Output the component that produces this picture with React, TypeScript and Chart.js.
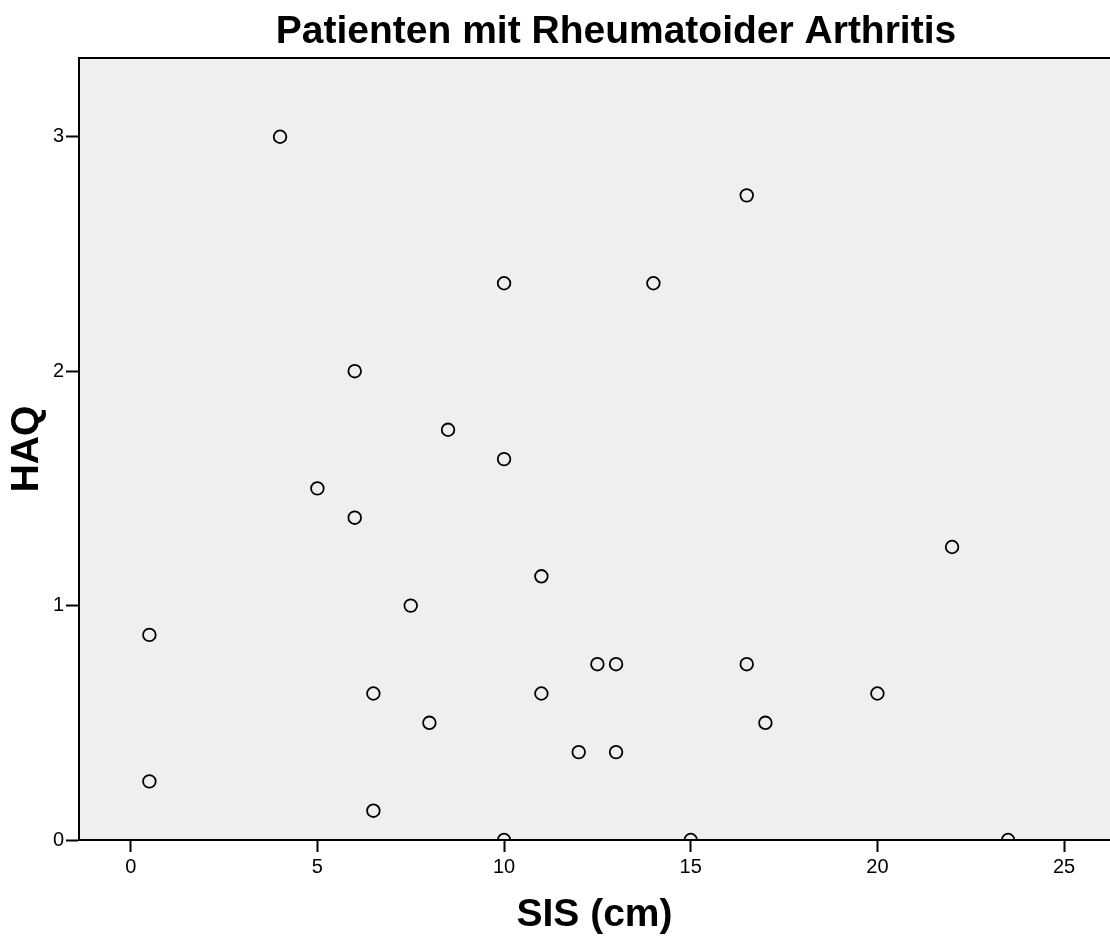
import React, { useEffect, useRef } from 'react';
import { Chart, registerables } from 'chart.js';

Chart.register(...registerables);

const chartTitle = 'Patienten mit Rheumatoider Arthritis';
const xAxisTitle = 'SIS (cm)';
const yAxisTitle = 'HAQ';

const sisValues = [
  4, 16.5, 10, 14, 6, 8.5, 10, 5, 6, 22, 11, 7.5, 0.5, 12.5, 13, 16.5, 6.5, 11, 20, 8, 17, 12, 13, 0.5, 6.5, 10, 15, 23.5,
];
const haqValues = [
  3, 2.75, 2.375, 2.375, 2, 1.75, 1.625, 1.5, 1.375, 1.25, 1.125, 1, 0.875, 0.75, 0.75, 0.75, 0.625, 0.625, 0.625, 0.5, 0.5,
  0.375, 0.375, 0.25, 0.125, 0, 0, 0,
];
const xTickValues = [0, 5, 10, 15, 20, 25];
const yTickValues = [0, 1, 2, 3];

const FONT = '"Liberation Sans", Arial, Helvetica, sans-serif';

export default function App() {
  const ref = useRef<HTMLCanvasElement>(null);

  useEffect(() => {
    if (!ref.current) return;

    const framePlugin = {
      id: 'spssFrame',
      beforeDraw(chart: any) {
        const { ctx, chartArea: a } = chart;
        ctx.save();
        ctx.fillStyle = '#efefef';
        ctx.fillRect(a.left, a.top, a.right - a.left, a.bottom - a.top);
        ctx.restore();
      },
      afterDraw(chart: any) {
        const { ctx, chartArea: a } = chart;
        ctx.save();
        ctx.strokeStyle = '#000';
        ctx.lineWidth = 2;
        ctx.beginPath();
        ctx.moveTo(a.left, a.top);
        ctx.lineTo(a.right, a.top);
        ctx.stroke();
        ctx.fillStyle = '#000';
        ctx.font = `bold 39px ${FONT}`;
        ctx.textAlign = 'center';
        ctx.textBaseline = 'alphabetic';
        ctx.fillText(chartTitle, 616, 43);
        ctx.restore();
      },
    };

    const points = sisValues.map((x, i) => ({ x, y: haqValues[i] }));

    const chart = new Chart(ref.current, {
      type: 'scatter',
      data: {
        datasets: [
          {
            data: points,
            pointStyle: 'circle',
            pointRadius: 6.3,
            pointHoverRadius: 6.3,
            pointBackgroundColor: 'rgba(0,0,0,0)',
            pointBorderColor: '#000',
            pointBorderWidth: 1.8,
            clip: 0,
          } as any,
        ],
      },
      options: {
        responsive: false,
        maintainAspectRatio: false,
        animation: false,
        layout: { autoPadding: false, padding: { top: 58, left: 0, right: 0, bottom: 0 } },
        plugins: {
          legend: { display: false },
          tooltip: { enabled: false },
          title: { display: false },
        },
        scales: {
          x: {
            type: 'linear',
            min: -1.385,
            max: 26.23,
            afterBuildTicks: (s: any) => {
              s.ticks = xTickValues.map((v) => ({ value: v }));
            },
            afterFit: (s: any) => {
              s.height = 100;
              s.paddingLeft = 0;
              s.paddingRight = 0;
            },
            grid: {
              display: true,
              drawOnChartArea: false,
              drawTicks: true,
              tickLength: 12,
              tickWidth: 2,
              tickColor: '#000',
            },
            border: { display: true, color: '#000', width: 2 },
            ticks: {
              color: '#000',
              font: { family: FONT, size: 20 },
              padding: 3,
              maxRotation: 0,
              autoSkip: false,
            },
            title: {
              display: true,
              text: xAxisTitle,
              color: '#000',
              font: { family: FONT, size: 39, weight: 'bold' },
              padding: { top: 0, bottom: 1 },
            },
          },
          y: {
            type: 'linear',
            min: 0,
            max: 3.336,
            afterBuildTicks: (s: any) => {
              s.ticks = yTickValues.map((v) => ({ value: v }));
            },
            afterFit: (s: any) => {
              s.width = 79;
              s.paddingTop = 0;
              s.paddingBottom = 0;
            },
            grid: {
              display: true,
              drawOnChartArea: false,
              drawTicks: true,
              tickLength: 13,
              tickWidth: 2,
              tickColor: '#000',
            },
            border: { display: true, color: '#000', width: 2 },
            ticks: {
              color: '#000',
              font: { family: FONT, size: 20 },
              padding: 2,
              autoSkip: false,
            },
            title: {
              display: true,
              text: yAxisTitle,
              color: '#000',
              font: { family: FONT, size: 39, weight: 'bold' },
              padding: { top: 4, bottom: 0 },
            },
          },
        },
      } as any,
      plugins: [framePlugin],
    });

    return () => chart.destroy();
  }, []);

  return (
    <div style={{ position: 'absolute', left: 0, top: 0, width: 1110, height: 940, background: '#fff' }}>
      <canvas ref={ref} width={1110} height={940} style={{ display: 'block' }} />
    </div>
  );
}
